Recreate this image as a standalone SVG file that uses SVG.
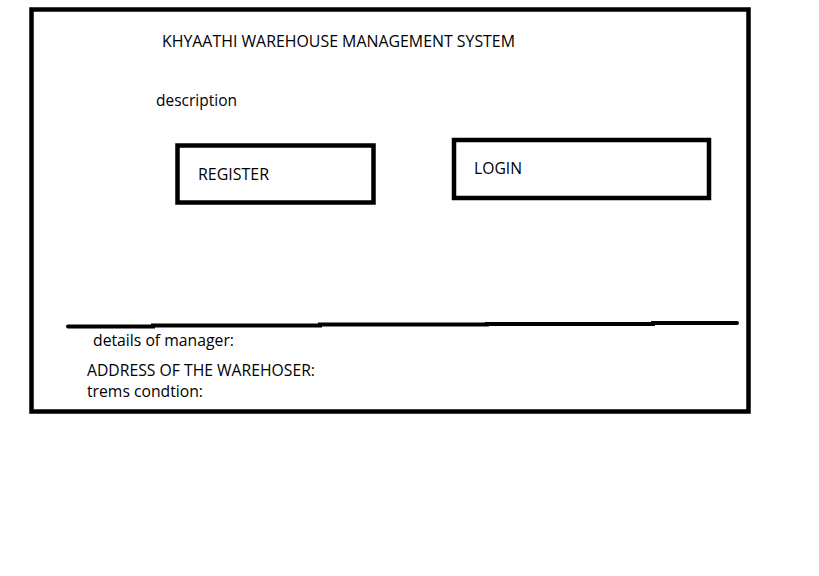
<svg xmlns="http://www.w3.org/2000/svg" width="819" height="576" viewBox="0 0 819 576">
<style>
.box{fill:none;stroke:#000;stroke-width:4.5}
.t{font-family:"Open Sans","Noto Sans",sans-serif;font-size:15.5px;fill:#000}
</style>
<rect width="819" height="576" fill="#fff"/>
<g id="frame"><rect class="box" x="31.5" y="9.5" width="717" height="402"/></g>
<g id="title"><text class="t" x="162" y="47" textLength="353" lengthAdjust="spacingAndGlyphs">KHYAATHI WAREHOUSE MANAGEMENT SYSTEM</text></g>
<g id="description"><text class="t" x="156" y="105.5" textLength="81" lengthAdjust="spacingAndGlyphs">description</text></g>
<g id="register"><rect class="box" x="177.5" y="145.5" width="196" height="57"/><text class="t" x="198" y="180" textLength="71" lengthAdjust="spacingAndGlyphs">REGISTER</text></g>
<g id="login"><rect class="box" x="454" y="140" width="255" height="58"/><text class="t" x="474" y="174" textLength="48" lengthAdjust="spacingAndGlyphs">LOGIN</text></g>
<g id="connectors"><path d="M68,326.5 L153,326.5 L153,325.5 L320,325.5 L320,324.5 L487,324.5 L487,324 L653,324 L653,323 L737,323" fill="none" stroke="#000" stroke-width="4" stroke-linecap="round"/></g>
<g id="footer">
<text class="t" x="93" y="346" textLength="141" lengthAdjust="spacingAndGlyphs">details of manager:</text>
<text class="t" x="87" y="375.5" textLength="228" lengthAdjust="spacingAndGlyphs">ADDRESS OF THE WAREHOSER:</text>
<text class="t" x="87" y="397" textLength="116" lengthAdjust="spacingAndGlyphs">trems condtion:</text>
</g>
</svg>
